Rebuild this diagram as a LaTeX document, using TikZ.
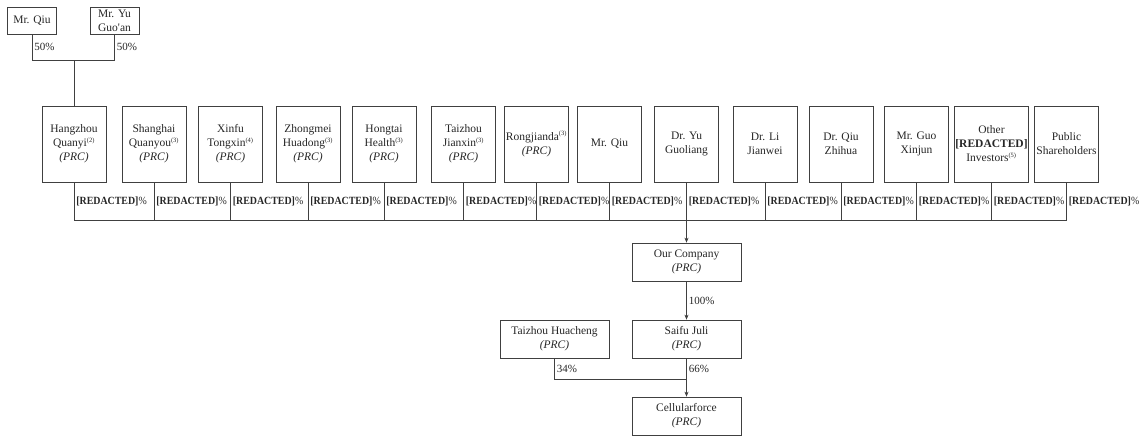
\documentclass[tikz,border=0pt]{standalone}
\usepackage{fontspec}
\setmainfont{Liberation Serif}
\usetikzlibrary{arrows.meta}
\newcommand\fnote[1]{\textsuperscript{\fontsize{6.5}{7}\selectfont(#1)}}
\newcommand\rdx{\textbf{[REDACTED]}}
\newcommand\rpct{\scalebox{0.9}[1]{\rdx\%}}
\begin{document}
\begin{tikzpicture}[x=1pt,y=-1pt,
  box/.style={draw=black!75, line width=0.7pt, align=center, inner sep=1pt,
    font=\fontsize{11.5}{14}\selectfont, text=black!85},
  ent/.style={box, minimum width=64pt, minimum height=76pt},
  wbox/.style={box, minimum width=109pt, minimum height=38pt},
  sbox/.style={box, minimum width=49pt, minimum height=27pt},
  ln/.style={draw=black!75, line width=0.7pt},
  arr/.style={ln, -{Stealth[length=5pt,width=4pt]}},
  pct/.style={right, inner sep=2pt, font=\fontsize{11}{13}\selectfont, text=black!85}]
\useasboundingbox (0,0) rectangle (1142,440);

% top owners
\node[sbox] (q1) at (32,20.5) {Mr. Qiu};
\node[sbox] (q2) at (114.5,20.5) {Mr. Yu\\Guo\textquotesingle an};

% shareholder row
\node[ent] (h1) at (74,144) {Hangzhou\\Quanyi\fnote{2}\\\textit{(PRC)}};
\node[ent] (h2) at (154,144) {Shanghai\\Quanyou\fnote{3}\\\textit{(PRC)}};
\node[ent] (h3) at (230.5,144) {Xinfu\\Tongxin\fnote{4}\\\textit{(PRC)}};
\node[ent] (h4) at (308,144) {Zhongmei\\Huadong\fnote{3}\\\textit{(PRC)}};
\node[ent] (h5) at (384,144) {Hongtai\\Health\fnote{3}\\\textit{(PRC)}};
\node[ent] (h6) at (463.5,144) {Taizhou\\Jianxin\fnote{3}\\\textit{(PRC)}};
\node[ent] (h7) at (536.5,144) {Rongjianda\fnote{3}\\\textit{(PRC)}};
\node[ent] (h8) at (609.5,144) {Mr. Qiu};
\node[ent] (h9) at (686.5,144) {Dr. Yu\\Guoliang};
\node[ent] (h10) at (765,144) {Dr. Li\\Jianwei};
\node[ent] (h11) at (841,144) {Dr. Qiu\\Zhihua};
\node[ent] (h12) at (916.5,144) {Mr. Guo\\Xinjun};
\node[ent] (h13) at (991.5,144) {Other\\\rdx\\Investors\fnote{5}};
\node[ent] (h14) at (1066.5,144) {Public\\Shareholders};

% lower entities
\node[wbox] (oc) at (686.5,262) {Our Company\\\textit{(PRC)}};
\node[wbox] (sf) at (686.5,339) {Saifu Juli\\\textit{(PRC)}};
\node[wbox] (th) at (554.5,339) {Taizhou Huacheng\\\textit{(PRC)}};
\node[wbox] (cf) at (686.5,416) {Cellularforce\\\textit{(PRC)}};

% coordinates
\coordinate (t) at (74,60);
\coordinate (bus) at (0,220);
\coordinate (j) at (686.5,379);

% top connectors
\draw[ln] (q1.south) -- node[pct]{50\%} (q1.south |- t) -- (q2.south |- t) -- node[pct]{50\%} (q2.south);
\draw[ln] (h1.north |- t) -- (h1.north);

% bus
\foreach \n in {h1,h2,h3,h4,h5,h6,h7,h8,h9,h10,h11,h12,h13,h14}{
  \draw[ln] (\n.south) -- node[pct]{\rpct} (\n.south |- bus);
}
\draw[ln] (h1.south |- bus) -- (h14.south |- bus);
\draw[arr] (h9.south |- bus) -- (oc.north);

% lower connectors
\draw[arr] (oc.south) -- node[pct]{100\%} (sf.north);
\draw[ln] (sf.south) -- node[pct]{66\%} (j);
\draw[arr] (j) -- (cf.north);
\draw[ln] (th.south) -- node[pct]{34\%} (th.south |- j) -- (j);
\end{tikzpicture}
\end{document}
